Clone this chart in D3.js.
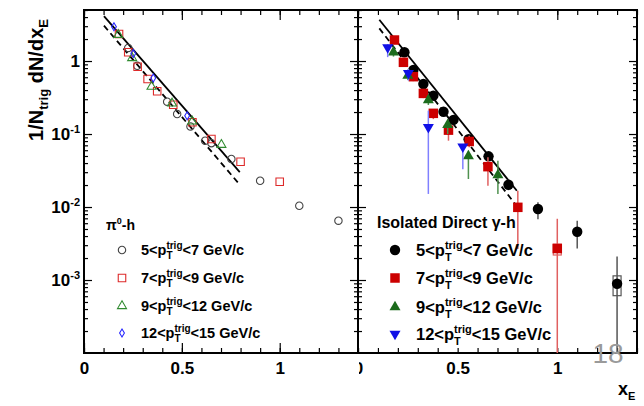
<!DOCTYPE html>
<html>
<head>
<meta charset="utf-8">
<script src="https://cdn.jsdelivr.net/npm/d3@7"></script>
<style>
body { margin: 0; background: #fff; }
text { font-family: "Liberation Sans", Arial, Helvetica, sans-serif; font-weight: bold; }
</style>
</head>
<body>
<svg id="canvas" width="644" height="406"></svg>
<script>
// ---- data ----
// pi0-h (left panel, open markers)
let pi0_5to7_x = [0.226, 0.272, 0.425, 0.476, 0.544, 0.619, 0.651, 0.753, 0.90, 1.10, 1.30]
let pi0_5to7_y = [1.51, 0.86, 0.277, 0.188, 0.127, 0.081, 0.075, 0.0455, 0.0229, 0.0104, 0.0065]
let pi0_7to9_x = [0.179, 0.226, 0.274, 0.325, 0.374, 0.456, 0.554, 0.651, 0.80, 1.0]
let pi0_7to9_y = [2.34, 1.32, 0.836, 0.567, 0.385, 0.252, 0.145, 0.0855, 0.0417, 0.0222]
let pi0_9to12_x = [0.175, 0.246, 0.345, 0.45, 0.553, 0.702]
let pi0_9to12_y = [2.29, 1.10, 0.445, 0.263, 0.149, 0.0713]
let pi0_12to15_x = [0.153, 0.252, 0.354, 0.527]
let pi0_12to15_y = [2.95, 1.27, 0.585, 0.178]

// isolated direct gamma-h (right panel, filled markers) with error bar ends
let gam_5to7_x = [0.233, 0.278, 0.328, 0.378, 0.429, 0.479, 0.555, 0.655, 0.755, 0.903, 1.10, 1.30]
let gam_5to7_y = [1.32, 0.753, 0.484, 0.335, 0.202, 0.156, 0.085, 0.0495, 0.0202, 0.0094, 0.00458, 0.00089]
let gam_5to7_lo = [1.2, 0.68, 0.44, 0.30, 0.18, 0.14, 0.076, 0.043, 0.017, 0.0068, 0.0027, 0.0001]
let gam_5to7_hi = [1.45, 0.83, 0.53, 0.37, 0.22, 0.17, 0.094, 0.056, 0.024, 0.0116, 0.0065, 0.0021]
let gam_7to9_x = [0.183, 0.228, 0.278, 0.328, 0.378, 0.454, 0.558, 0.652, 0.802, 1.0]
let gam_7to9_y = [1.94, 0.96, 0.61, 0.36, 0.192, 0.113, 0.079, 0.0357, 0.0099, 0.0027]
let gam_7to9_lo = [1.7, 0.85, 0.53, 0.31, 0.16, 0.081, 0.066, 0.0196, 0.00266, 0.0001]
let gam_7to9_hi = [2.2, 1.08, 0.69, 0.41, 0.22, 0.137, 0.095, 0.048, 0.0167, 0.0069]
let gam_9to12_x = [0.178, 0.25, 0.353, 0.45, 0.554, 0.702]
let gam_9to12_y = [1.32, 0.63, 0.292, 0.134, 0.05, 0.0274]
let gam_9to12_lo = [1.15, 0.55, 0.25, 0.10, 0.0242, 0.0151]
let gam_9to12_hi = [1.5, 0.72, 0.34, 0.152, 0.059, 0.043]
let gam_12to15_x = [0.149, 0.253, 0.353, 0.526]
let gam_12to15_y = [1.54, 0.68, 0.124, 0.067]
let gam_12to15_lo = [1.13, 0.54, 0.0151, 0.033]
let gam_12to15_hi = [1.7, 0.78, 0.209, 0.073]

// systematic boxes [x, low, high]
let gamSysBlack = [[1.30, 0.00061, 0.00114]]
let gamSysRed = [[1.0, 0.0022, 0.0031]]

// fit lines [x, y]
let fitLeftSolid = [[0.102, 4.13], [0.796, 0.030]]
let fitLeftDashed = [[0.102, 3.05], [0.796, 0.0202]]
let fitRightSolid = [[0.107, 3.68], [0.797, 0.0167]]
let fitRightDashed = [[0.107, 2.8], [0.80, 0.0100]]

// ticks and legend text
let xMajor = [0, 0.5, 1]
let xMinor = d3.range(15).map(i => i / 10)
let yMajor = [1e-3, 1e-2, 1e-1, 1]
let yMajorExp = [-3, -2, -1, 0]
let trigRanges = [[5, 7], [7, 9], [9, 12], [12, 15]]

let svg = d3.select('#canvas')

let plotTop = 10, plotBottom = 353, plotLeft = 84, plotMid = 358, plotRight = 637

let y = d3.scaleLog().domain([1e-4, 5]).range([plotBottom, plotTop])
let xL = d3.scaleLinear().domain([0, 1.4]).range([plotLeft, plotMid])
let xR = d3.scaleLinear().domain([0, 1.4]).range([plotMid, plotRight])

let yMinor = []
;[1e-4, 1e-3, 1e-2, 1e-1, 1].forEach(dec => {
    for (let k = 2; k <= 9; k++) if (k * dec <= 5) yMinor.push(k * dec)
})

svg.append('defs').append('clipPath').attr('id', 'rclip')
    .append('rect').attr('x', plotMid + 1).attr('y', 0).attr('width', 300).attr('height', 406)

// ---- marker shapes ----
let shapePath = (shape, s) => {
    if (shape === 'circle') return d3.symbol(d3.symbolCircle, Math.PI * s * s)()
    if (shape === 'square') return d3.symbol(d3.symbolSquare, s * s)()
    if (shape === 'triangle') return d3.symbol(d3.symbolTriangle, Math.sqrt(3) / 4 * s * s)()
    if (shape === 'down') {
        let h = s * Math.sqrt(3) / 2
        return `M${-s / 2},${-h / 3}L${s / 2},${-h / 3}L0,${2 * h / 3}Z`
    }
    if (shape === 'diamond') return `M0,${-s}L${s * 0.6},0L0,${s}L${-s * 0.6},0Z`
}

let drawAxes = (x, yl, yr, clip) => {
    let g = svg.append('g').attr('stroke-width', 1.2)
    g.append('g').attr('transform', `translate(0,${plotBottom})`)
        .call(d3.axisBottom(x).tickValues(xMinor).tickSize(-5).tickFormat(''))
    let bm = g.append('g').attr('transform', `translate(0,${plotBottom})`)
        .call(d3.axisBottom(x).tickValues(xMajor).tickSize(-10).tickPadding(9).tickFormat(d => d))
    bm.attr('font-size', 17).attr('font-family', null)
    bm.selectAll('.tick text').attr('fill', '#000')
    if (clip) bm.attr('clip-path', 'url(#rclip)')
    g.append('g').attr('transform', `translate(0,${plotTop})`)
        .call(d3.axisTop(x).tickValues(xMinor).tickSize(-5).tickFormat(''))
    g.append('g').attr('transform', `translate(0,${plotTop})`)
        .call(d3.axisTop(x).tickValues(xMajor).tickSize(-10).tickFormat(''))
    g.append('g').attr('transform', `translate(${yl},0)`)
        .call(d3.axisLeft(y).tickValues(yMinor).tickSize(-4).tickFormat(''))
    let ym = g.append('g').attr('transform', `translate(${yl},0)`)
        .call(d3.axisLeft(y).tickValues(yMajor).tickSize(-8).tickPadding(4).tickFormat(''))
    g.append('g').attr('transform', `translate(${yr},0)`)
        .call(d3.axisRight(y).tickValues(yMinor).tickSize(-4).tickFormat(''))
    g.append('g').attr('transform', `translate(${yr},0)`)
        .call(d3.axisRight(y).tickValues(yMajor).tickSize(-8).tickFormat(''))
    g.selectAll('.domain').remove()
    return ym
}

let ymLeft = drawAxes(xL, plotLeft, plotMid, false)
drawAxes(xR, plotMid, plotRight, true)

// y tick labels with exponents
ymLeft.attr('font-size', 17).attr('font-family', null)
ymLeft.selectAll('.tick text').attr('fill', '#000').each(function (d, i) {
    let t = d3.select(this)
    let e = yMajorExp[i]
    if (e === 0) { t.text('1'); return }
    t.append('tspan').text('10')
    t.append('tspan').attr('dy', -7).attr('font-size', 11).text(e)
})

// frame
svg.append('rect').attr('x', plotLeft).attr('y', plotTop).attr('width', plotRight - plotLeft).attr('height', plotBottom - plotTop)
    .attr('fill', 'none').attr('stroke', '#000').attr('stroke-width', 2)
svg.append('line').attr('x1', plotMid).attr('x2', plotMid).attr('y1', plotTop).attr('y2', plotBottom)
    .attr('stroke', '#000').attr('stroke-width', 2)

// fit lines
let lineFor = (x) => d3.line().x(d => x(d[0])).y(d => y(d[1]))
let fits = [[fitLeftSolid, xL, null], [fitLeftDashed, xL, '6,4'], [fitRightSolid, xR, null], [fitRightDashed, xR, '6,4']]
fits.forEach(f => {
    svg.append('path').attr('d', lineFor(f[1])(f[0])).attr('fill', 'none')
        .attr('stroke', '#000').attr('stroke-width', 1.8).attr('stroke-dasharray', f[2])
})

// left panel open markers
let openSeries = [
    { xs: pi0_5to7_x, ys: pi0_5to7_y, shape: 'circle', size: 3.7, color: '#444' },
    { xs: pi0_7to9_x, ys: pi0_7to9_y, shape: 'square', size: 7.5, color: '#dd2a2a' },
    { xs: pi0_9to12_x, ys: pi0_9to12_y, shape: 'triangle', size: 9, color: '#2f8a2f' },
    { xs: pi0_12to15_x, ys: pi0_12to15_y, shape: 'diamond', size: 4, color: '#2626ff' }
]
openSeries.forEach(s => {
    svg.append('g').selectAll('path')
        .data(s.xs.map((v, i) => [v, s.ys[i]]))
        .enter()
        .append('path')
        .attr('d', shapePath(s.shape, s.size))
        .attr('transform', d => `translate(${xL(d[0])},${y(d[1])})`)
        .attr('fill', 'none')
        .attr('stroke', s.color)
        .attr('stroke-width', 1.1)
})

// right panel filled markers with error bars
let filledSeries = [
    { xs: gam_5to7_x, ys: gam_5to7_y, lo: gam_5to7_lo, hi: gam_5to7_hi, shape: 'circle', size: 5.2, color: '#000', bar: '#555' },
    { xs: gam_7to9_x, ys: gam_7to9_y, lo: gam_7to9_lo, hi: gam_7to9_hi, shape: 'square', size: 9.5, color: '#cc0000', bar: '#e06060' },
    { xs: gam_9to12_x, ys: gam_9to12_y, lo: gam_9to12_lo, hi: gam_9to12_hi, shape: 'triangle', size: 11, color: '#1c6b1c', bar: '#4f914f' },
    { xs: gam_12to15_x, ys: gam_12to15_y, lo: gam_12to15_lo, hi: gam_12to15_hi, shape: 'down', size: 11, color: '#1010e6', bar: '#8080ff' }
]
let sysSets = [[gamSysBlack, '#555'], [gamSysRed, '#e06060']]
sysSets.forEach(s => {
    svg.append('g').selectAll('rect')
        .data(s[0])
        .enter()
        .append('rect')
        .attr('x', d => xR(d[0]) - 4)
        .attr('width', 8)
        .attr('y', d => y(d[2]))
        .attr('height', d => y(d[1]) - y(d[2]))
        .attr('fill', 'none')
        .attr('stroke', s[1])
        .attr('stroke-width', 1.2)
})
filledSeries.forEach(s => {
    let data = s.xs.map((v, i) => ({ x: v, y: s.ys[i], lo: s.lo[i], hi: s.hi[i] }))
    let g = svg.append('g')
    g.selectAll('line')
        .data(data)
        .enter()
        .append('line')
        .attr('x1', d => xR(d.x)).attr('x2', d => xR(d.x))
        .attr('y1', d => y(d.lo)).attr('y2', d => y(d.hi))
        .attr('stroke', s.bar)
        .attr('stroke-width', 1.5)
    g.selectAll('path')
        .data(data)
        .enter()
        .append('path')
        .attr('d', shapePath(s.shape, s.size))
        .attr('transform', d => `translate(${xR(d.x)},${y(d.y)})`)
        .attr('fill', s.color)
})

// legend label with p_T^trig
let ptLabel = (g, x, yb, r, fs) => {
    let sub = Math.round(fs * 0.68)
    let t = g.append('text').attr('x', x).attr('y', yb).attr('font-size', fs)
    t.append('tspan').text(r[0] + '<p')
    t.append('tspan').attr('font-size', sub).attr('dy', fs * 0.3).text('T')
    t.append('tspan').attr('font-size', sub).attr('dx', -sub * 0.61).attr('dy', -fs * 0.72).text('trig')
    t.append('tspan').attr('dy', fs * 0.42).text('<' + r[1] + ' GeV/c')
}

// left legend
let legL = svg.append('g')
legL.append('text').attr('x', 106).attr('y', 230).attr('font-size', 14)
    .call(t => {
        t.append('tspan').text('π')
        t.append('tspan').attr('font-size', 9).attr('dy', -6).text('0')
        t.append('tspan').attr('dy', 6).text('-h')
    })
let legRowsY = [250, 278, 306, 333]
openSeries.forEach((s, i) => {
    legL.append('path').attr('d', shapePath(s.shape, s.size))
        .attr('transform', `translate(122,${legRowsY[i]})`)
        .attr('fill', 'none').attr('stroke', s.color).attr('stroke-width', 1.1)
    ptLabel(legL, 141, legRowsY[i] + 5, trigRanges[i], 14.5)
})

// right legend
let legR = svg.append('g')
legR.append('text').attr('x', 377).attr('y', 228).attr('font-size', 16).text('Isolated Direct γ-h')
let legRowsYR = [250, 278, 307, 334]
filledSeries.forEach((s, i) => {
    legR.append('path').attr('d', shapePath(s.shape, s.size))
        .attr('transform', `translate(395,${legRowsYR[i]})`)
        .attr('fill', s.color)
    ptLabel(legR, 416, legRowsYR[i] + 6, trigRanges[i], 16.5)
})

// axis titles
svg.append('text').attr('transform', 'translate(43,80) rotate(-90)')
    .attr('text-anchor', 'middle').attr('font-size', 20)
    .call(t => {
        t.append('tspan').text('1/N')
        t.append('tspan').attr('font-size', 13).attr('dy', 5).text('trig')
        t.append('tspan').attr('dy', -5).text(' dN/dx')
        t.append('tspan').attr('font-size', 13).attr('dy', 5).text('E')
    })
svg.append('text').attr('x', 618).attr('y', 395).attr('font-size', 18)
    .call(t => {
        t.append('tspan').text('x')
        t.append('tspan').attr('font-size', 11).attr('dy', 5).text('E')
    })

// page number
svg.append('text').attr('x', 608).attr('y', 363).attr('text-anchor', 'middle')
    .attr('font-size', 28).style('font-weight', 'normal')
    .attr('fill', '#9a9a9a').text('18')
</script>
</body>
</html>
